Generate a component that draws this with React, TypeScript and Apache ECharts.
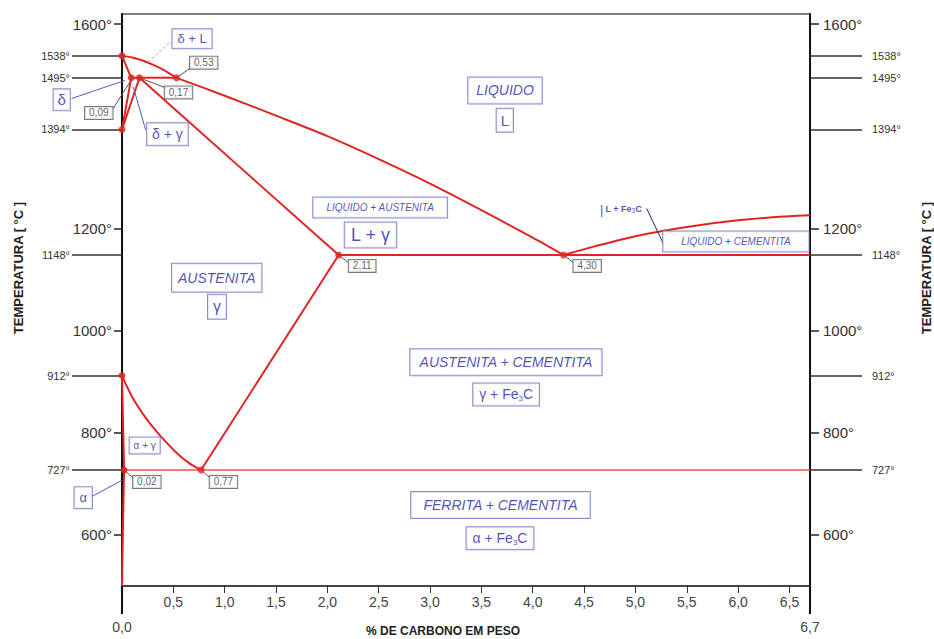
import React, { useEffect, useRef } from "react";
import * as echarts from "echarts";

// ---------- data ----------
const carbonTicks = [0.5, 1, 1.5, 2, 2.5, 3, 3.5, 4, 4.5, 5, 5.5, 6, 6.5];
const carbonEnds = [0, 6.7];
const tempMajorTicks = [600, 800, 1000, 1200, 1600];
const tempCriticalTicks = [1538, 1495, 1394, 1148, 912, 727];

const liquidusDelta = [[0, 1538], [0.1, 1535], [0.2, 1529], [0.3, 1521], [0.4, 1511], [0.53, 1495]];
const liquidusAustenite = [[0.53, 1495], [1, 1460], [1.5, 1421], [2, 1381], [2.5, 1336], [3, 1288], [3.5, 1236], [4, 1182], [4.3, 1148]];
const liquidusCementite = [[4.3, 1148], [4.6, 1165], [5, 1185], [5.5, 1203], [6, 1216], [6.5, 1224], [6.7, 1226]];
const peritecticLine = [[0.09, 1495], [0.53, 1495]];
const deltaSolidus = [[0, 1538], [0.09, 1495]];
const deltaSolvus = [[0, 1394], [0.09, 1495]];
const gammaDeltaLine = [[0, 1394], [0.17, 1495]];
const austeniteSolidus = [[0.17, 1495], [2.11, 1148]];
const eutecticLine = [[2.11, 1148], [6.7, 1148]];
const acmLine = [[0.77, 727], [2.11, 1148]];
const a3Line = [[0, 912], [0.05, 890], [0.11, 866], [0.2, 838], [0.27, 819], [0.4, 788], [0.53, 761], [0.65, 741], [0.77, 727]];
const ferriteSolvus = [[0, 912], [0.02, 727], [0.008, 600], [0, 500]];
const eutectoidLine = [[0.02, 727], [6.7, 727]];

const keyPoints = [[0, 1538], [0.09, 1495], [0.17, 1495], [0.53, 1495], [0, 1394], [2.11, 1148], [4.3, 1148], [0, 912], [0.02, 727], [0.77, 727]];

// composition call-outs (value, anchor of the box)
const compositionValues = [0.53, 0.17, 0.09, 2.11, 4.3, 0.02, 0.77];
const compositionBoxAt = [[0.796, 1524.7], [0.55, 1466.5], [-0.226, 1426.2], [2.339, 1126.8], [4.53, 1126.8], [0.242, 703.7], [0.988, 703.7]];

const phaseNames = ["δ + L", "δ", "δ + γ", "LIQUIDO", "L", "LIQUIDO + AUSTENITA", "L + γ", "AUSTENITA", "γ", "L + Fe3C", "LIQUIDO + CEMENTITA", "AUSTENITA + CEMENTITA", "γ + Fe3C", "α + γ", "α", "FERRITA + CEMENTITA", "α + Fe3C"];
const phaseLabelAt = [[0.682, 1571.6], [-0.587, 1451.9], [0.443, 1384.4], [3.73, 1470.3], [3.728, 1412], [2.514, 1240.9], [2.42, 1187.1], [0.923, 1103.5], [0.925, 1046.8], [4.859, 1238], [5.979, 1174.4], [3.739, 938], [3.741, 875], [0.221, 775.2], [-0.378, 673], [3.686, 658.7], [3.681, 593.5]];

const leaderLines = [
  [[0.53, 1495], [0.68, 1516]],
  [[0.17, 1495], [0.419, 1476]],
  [[0.08, 1488], [-0.085, 1435]],
  [[0.256, 1526], [0.467, 1565]],
  [[-0.49, 1454.6], [0.029, 1490]],
  [[0.11, 1477], [0.231, 1392.6]],
  [[2.11, 1148], [2.2, 1134]],
  [[4.3, 1148], [4.39, 1134]],
  [[0.02, 727], [0.107, 711.6]],
  [[0.77, 727], [0.857, 711.6]],
  [[-0.295, 675], [0, 707]],
  [[5.109, 1239.3], [5.271, 1170.8]],
];
const leaderKinds = ["gray", "gray", "gray", "dashed", "blue", "blue", "gray", "gray", "gray", "gray", "blue", "navy"];

// ---------- styles ----------
const FONT = '"Liberation Sans", Arial, Helvetica, sans-serif';
const RED = "#e02424";
const BLUE = "#1f1fa3";
const BOXC = "#6e6ec0";

const phaseStyle: any[] = [
  { size: 13, pad: [2, 5] },
  { size: 15, pad: [2, 4] },
  { size: 14, pad: [3, 5] },
  { size: 14, italic: true, pad: [5, 8] },
  { size: 15, pad: [3, 4] },
  { size: 10, italic: true, pad: [4, 13] },
  { size: 18, pad: [2, 6] },
  { size: 14, italic: true, pad: [6, 6] },
  { size: 16, pad: [3, 5] },
  { size: 9, bold: true, pad: [2, 2], bar: true },
  { size: 10, italic: true, pad: [4, 18] },
  { size: 14, italic: true, pad: [5, 9] },
  { size: 14, pad: [3, 6] },
  { size: 10, pad: [2, 4] },
  { size: 13, pad: [3, 5] },
  { size: 14, italic: true, pad: [5, 12] },
  { size: 14, pad: [3, 6] },
];

const fmtComma = (v: number, d = 1) => v.toFixed(d).replace(".", ",");

function phaseItem(i: number) {
  const st = phaseStyle[i];
  const name = phaseNames[i];
  let formatter: string;
  if (name.indexOf("Fe3C") >= 0) {
    const pre = name.replace("Fe3C", "");
    formatter = (st.bar ? "{bar||}" : "") + "{a|" + pre + "Fe}{s|3}{a|C}";
  } else {
    formatter = "{a|" + name + "}";
  }
  const lh = Math.round(st.size * 1.15);
  return {
    value: phaseLabelAt[i],
    label: {
      show: true,
      position: "inside",
      formatter,
      padding: st.pad,
      borderColor: st.bar ? "transparent" : BOXC,
      borderWidth: st.bar ? 0 : 1,
      backgroundColor: st.bar ? "transparent" : "#fff",
      rich: {
        a: {
          fontSize: st.size,
          fontFamily: FONT,
          fontStyle: st.italic ? "italic" : "normal",
          fontWeight: st.bold ? "bold" : "normal",
          color: BLUE,
          lineHeight: lh,
          verticalAlign: "middle",
        },
        s: {
          fontSize: Math.max(7, Math.round(st.size * 0.55)),
          fontFamily: FONT,
          color: BLUE,
          lineHeight: lh,
          verticalAlign: "bottom",
          padding: [Math.round(st.size * 0.5), 0, 0, 0],
        },
        bar: { fontSize: st.size + 4, color: BLUE, fontFamily: FONT, lineHeight: lh, padding: [0, 2, 0, 0] },
      },
    },
  };
}

function redLine(data: number[][], width = 2, color = RED, smooth: any = false) {
  return {
    type: "line",
    data,
    symbol: "none",
    showSymbol: false,
    smooth,
    lineStyle: { color, width },
    silent: true,
    z: 3,
    clip: false,
  };
}

const leaderStyle: any = {
  gray: { color: "#555", width: 1, type: "solid" },
  dashed: { color: "#aaa", width: 1, type: [3, 2] },
  blue: { color: "#5a5ab8", width: 1, type: "solid" },
  navy: { color: "#22227a", width: 1, type: "solid" },
};

function makeOption() {
  const axisFmtDeg = (v: number) => `${Math.round(v)}°`;
  const yBase = { type: "value", min: 500, max: 1620, splitLine: { show: false } };
  return {
    animation: false,
    backgroundColor: "#fff",
    grid: { left: 122, right: 124, top: 14, bottom: 53, show: true, borderColor: "#555", borderWidth: 1.5 },
    xAxis: [
      {
        type: "value", min: 0, max: 6.7, position: "bottom",
        splitLine: { show: false },
        axisLine: { show: true, lineStyle: { color: "#333", width: 1.5 } },
        axisTick: { show: true, customValues: carbonTicks, length: 7, lineStyle: { color: "#333", width: 1 } },
        axisLabel: { customValues: carbonTicks, formatter: (v: number) => fmtComma(v), fontSize: 14, color: "#444", margin: 9, fontFamily: FONT },
      },
      {
        type: "value", min: 0, max: 6.7, position: "bottom",
        splitLine: { show: false },
        axisLine: { show: false },
        axisTick: { show: true, customValues: carbonEnds, length: 28, lineStyle: { color: "#111", width: 2 } },
        axisLabel: { customValues: carbonEnds, formatter: (v: number) => fmtComma(v), fontSize: 14, color: "#444", margin: 34, fontFamily: FONT },
      },
    ],
    yAxis: [
      {
        ...yBase, position: "left",
        axisLine: { show: true, lineStyle: { color: "#111", width: 2 } },
        axisTick: { show: true, customValues: tempMajorTicks, length: 8, lineStyle: { color: "#222", width: 1.5 } },
        axisLabel: { customValues: tempMajorTicks, formatter: axisFmtDeg, fontSize: 15, color: "#333", margin: 10, fontFamily: FONT },
      },
      {
        ...yBase, position: "left",
        axisLine: { show: false },
        axisTick: { show: true, customValues: tempCriticalTicks, length: 50, lineStyle: { color: "#333", width: 1.5 } },
        axisLabel: { customValues: tempCriticalTicks, formatter: axisFmtDeg, fontSize: 11, color: "#333", margin: 52, fontFamily: FONT },
      },
      {
        ...yBase, position: "right",
        axisLine: { show: true, lineStyle: { color: "#111", width: 2 } },
        axisTick: { show: true, customValues: tempMajorTicks, length: 9, lineStyle: { color: "#222", width: 1.5 } },
        axisLabel: { customValues: tempMajorTicks, formatter: axisFmtDeg, fontSize: 15, color: "#333", margin: 13, fontFamily: FONT },
      },
      {
        ...yBase, position: "right",
        axisLine: { show: false },
        axisTick: { show: true, customValues: tempCriticalTicks, length: 52, lineStyle: { color: "#333", width: 1.5 } },
        axisLabel: { customValues: tempCriticalTicks, formatter: axisFmtDeg, fontSize: 11, color: "#333", margin: 62, fontFamily: FONT },
      },
    ],
    graphic: [
      { type: "text", x: 18, y: 268, rotation: Math.PI / 2, style: { text: "TEMPERATURA [ °C ]", font: `bold 13px ${FONT}`, fill: "#222", align: "center", verticalAlign: "middle" } },
      { type: "text", x: 926, y: 268, rotation: Math.PI / 2, style: { text: "TEMPERATURA [ °C ]", font: `bold 13px ${FONT}`, fill: "#222", align: "center", verticalAlign: "middle" } },
      { type: "text", x: 443, y: 631, style: { text: "% DE CARBONO EM PESO", font: `bold 12px ${FONT}`, fill: "#222", align: "center", verticalAlign: "middle" } },
    ],
    series: [
      redLine(liquidusDelta, 2, RED, 0.3),
      redLine(liquidusAustenite, 2, RED, 0.3),
      redLine(liquidusCementite, 2, RED, 0.3),
      redLine(peritecticLine, 2),
      redLine(deltaSolidus, 2),
      redLine(deltaSolvus, 2),
      redLine(gammaDeltaLine, 2),
      redLine(austeniteSolidus, 2),
      redLine(eutecticLine, 2),
      redLine(acmLine, 2),
      redLine(a3Line, 2, RED, 0.3),
      redLine(ferriteSolvus, 2),
      redLine(eutectoidLine, 1.5, "#e8504c"),
      {
        type: "lines",
        coordinateSystem: "cartesian2d",
        polyline: false,
        silent: true,
        z: 4,
        clip: false,
        data: leaderLines.map((c, i) => ({ coords: c, lineStyle: leaderStyle[leaderKinds[i]] })),
        lineStyle: { width: 1, opacity: 1, curveness: 0 },
      },
      {
        type: "scatter",
        data: keyPoints,
        symbol: "circle",
        symbolSize: 7,
        itemStyle: { color: RED },
        silent: true,
        z: 5,
        clip: false,
      },
      {
        type: "scatter",
        data: compositionValues.map((v, i) => ({
          value: compositionBoxAt[i],
          label: {
            show: true,
            position: "inside",
            formatter: fmtComma(v, 2),
            fontSize: 10,
            fontFamily: FONT,
            color: "#333",
            lineHeight: 11,
            padding: [1, 4, 0, 4],
            borderColor: "#555",
            borderWidth: 1,
            backgroundColor: "#fff",
          },
        })),
        symbolSize: 1,
        itemStyle: { color: "rgba(0,0,0,0)" },
        silent: true,
        z: 6,
        clip: false,
      },
      {
        type: "scatter",
        data: phaseNames.map((_, i) => phaseItem(i)),
        symbolSize: 1,
        itemStyle: { color: "rgba(0,0,0,0)" },
        silent: true,
        z: 6,
        clip: false,
      },
    ],
  };
}

export default function App() {
  const ref = useRef<HTMLDivElement>(null);
  useEffect(() => {
    if (!ref.current) return;
    const chart = echarts.init(ref.current, null, { renderer: "svg" });
    chart.setOption(makeOption() as any);
    return () => chart.dispose();
  }, []);
  return (
    <div
      ref={ref}
      style={{ position: "fixed", left: 0, top: 0, width: 934, height: 639, background: "#fff" }}
    />
  );
}
